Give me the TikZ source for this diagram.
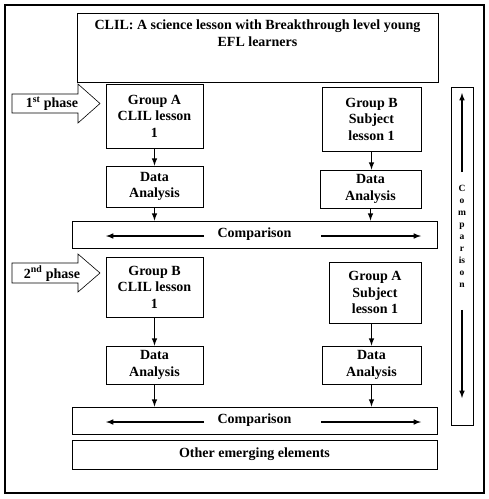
\documentclass[tikz,border=0pt]{standalone}
\usepackage{fontspec}
\setmainfont{Liberation Serif}
\usetikzlibrary{positioning}

\begin{document}
\begin{tikzpicture}[
  x=1pt, y=-1pt,
  box/.style={
    draw,
    line width=0.8pt,
    align=center,
    font=\fontsize{14}{16.5}\selectfont\bfseries,
    inner sep=1pt
  },
  tag/.style={align=center, font=\fontsize{14}{16.5}\selectfont\bfseries, inner sep=1pt},
  phase/.style={draw, line width=0.6pt},
  line/.style={draw, -latex, line width=1.5pt}
]
\useasboundingbox (0,0) rectangle (489,499);
\draw[line width=2.5pt] (5,5) rectangle (484,493);

% title
\node[box, minimum width=361pt, minimum height=69pt] (title) at (257.5,47.5) {};
\node[tag, below=6pt of title.north, anchor=north] (titletext)
  {CLIL: A science lesson with Breakthrough level young\\EFL learners};

% first phase
\draw[phase] (12,94) -- (78,94) -- (78,84) -- (100,103.5) -- (78,123) -- (78,113) -- (12,113) -- cycle;
\node[tag] (phaseone) at (52,104) {1\textsuperscript{st} phase};

\node[box, minimum width=97pt, minimum height=64pt] (grpaone) at (154.5,116) {Group A\\CLIL lesson\\1};
\node[box, minimum width=99pt, minimum height=64pt] (grpbone) at (371.5,119) {Group B\\Subject\\lesson 1};
\node[box, minimum width=97pt, minimum height=41pt] (daaone) at (154.5,186.5) {Data\\Analysis};
\node[box, minimum width=101pt, minimum height=38pt] (dabone) at (370.5,189) {Data\\Analysis};
\node[box, minimum width=365pt, minimum height=27pt] (cmpone) at (254.5,234.5) {Comparison};

\draw[line] (grpaone.south) -- (grpaone.south |- daaone.north);
\draw[line] (grpbone.south) -- (grpbone.south |- dabone.north);
\draw[line] (daaone.south) -- (daaone.south |- cmpone.north);
\draw[line] (dabone.south) -- (dabone.south |- cmpone.north);
\draw[line] ([xshift=-50.5pt,yshift=-1.5pt]cmpone.center) -- ([xshift=-148.5pt,yshift=-1.5pt]cmpone.center);
\draw[line] ([xshift=66.5pt,yshift=-1.5pt]cmpone.center) -- ([xshift=166.5pt,yshift=-1.5pt]cmpone.center);

% second phase
\draw[phase] (12,263) -- (78,263) -- (78,254) -- (100,273) -- (78,292) -- (78,283) -- (12,283) -- cycle;
\node[tag] (phasetwo) at (52,273.5) {2\textsuperscript{nd} phase};

\node[box, minimum width=97pt, minimum height=60pt] (grpbtwo) at (154.5,287) {Group B\\CLIL lesson\\1};
\node[box, minimum width=92pt, minimum height=61pt] (grpatwo) at (375,292.5) {Group A\\Subject\\lesson 1};
\node[box, minimum width=97pt, minimum height=38pt] (daatwo) at (154.5,365) {Data\\Analysis};
\node[box, minimum width=99pt, minimum height=38pt] (dabtwo) at (371.5,365) {Data\\Analysis};
\node[box, minimum width=365pt, minimum height=27pt] (cmptwo) at (254.5,420.5) {Comparison};
\node[box, minimum width=365pt, minimum height=29pt] (other) at (254.5,454.5) {Other emerging elements};

\draw[line] (grpbtwo.south) -- (grpbtwo.south |- daatwo.north);
\draw[line] (dabtwo.north |- grpatwo.south) -- (dabtwo.north);
\draw[line] (daatwo.south) -- (daatwo.south |- cmptwo.north);
\draw[line] (dabtwo.south) -- (dabtwo.south |- cmptwo.north);
\draw[line] ([xshift=-50.5pt,yshift=-1.5pt]cmptwo.center) -- ([xshift=-148.5pt,yshift=-1.5pt]cmptwo.center);
\draw[line] ([xshift=66.5pt,yshift=-1.5pt]cmptwo.center) -- ([xshift=166.5pt,yshift=-1.5pt]cmptwo.center);

% side comparison
\node[box, minimum width=22pt, minimum height=338pt] (side) at (462,256) {};
\node[align=center, inner sep=0pt, font=\fontsize{9.5}{12}\selectfont\bfseries] (sidetext) at (462,236.5)
  {C\\o\\m\\p\\a\\r\\is\\o\\n};
\coordinate (sidetop) at (462,93);
\coordinate (sidebottom) at (462,398);
\draw[line] ([yshift=13pt]sidetext.north) -- (sidetop);
\draw[line] ([yshift=-22pt]sidetext.south) -- (sidebottom);
\end{tikzpicture}
\end{document}
